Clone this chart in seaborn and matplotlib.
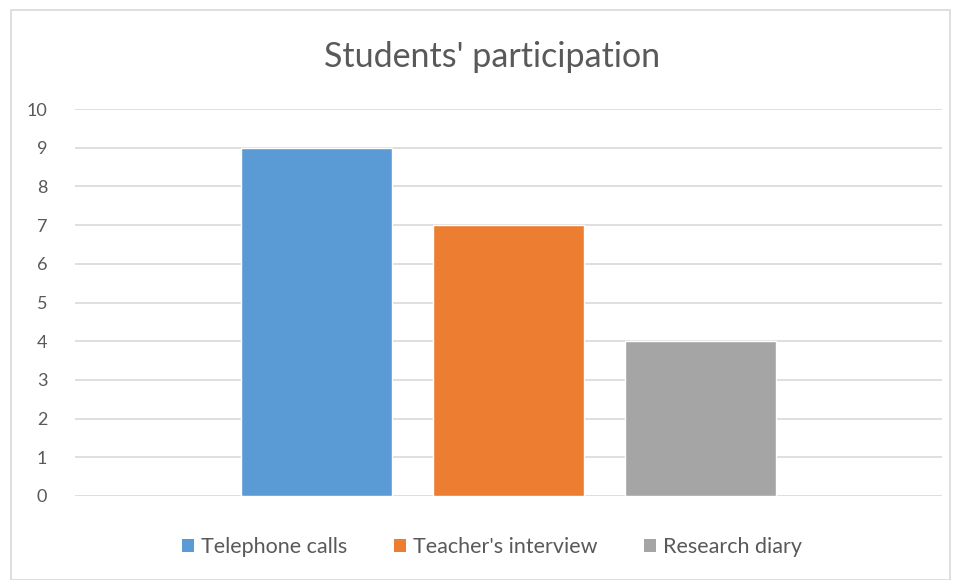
import matplotlib
matplotlib.use("Agg")
import matplotlib.pyplot as plt
import seaborn as sns
import pandas as pd
from matplotlib.patches import Rectangle

series = ["Telephone calls", "Teacher's interview", "Research diary"]
values = [9, 7, 4]
colors = ["#5b9bd5", "#ed7d31", "#a5a5a5"]
yticks = [0, 1, 2, 3, 4, 5, 6, 7, 8, 9, 10]

sns.set_theme(style="white")
plt.rcParams['font.family'] = ['Lato', 'DejaVu Sans']

df = pd.DataFrame({"series": series, "value": values})

fig = plt.figure(figsize=(9.6, 5.8), dpi=100)
ax = fig.add_axes([75/960, 1-496/580, (942-75)/960, (496-109)/580])
sns.barplot(data=df, x="series", y="value", hue="series", palette=colors,
            width=0.786, ax=ax, legend=False, saturation=1)

ax.set_xlim(-1.258, 3.258)
ax.set_ylim(0, 10)
ax.set_yticks(yticks)
ax.set_yticklabels([str(t) for t in yticks], color="#595959", fontsize=13)
ax.set_xticks([])
ax.set_xlabel("")
ax.set_ylabel("")
ax.yaxis.grid(True, color="#d9d9d9", linewidth=1.2)
ax.set_axisbelow(True)
for s in ["top", "right", "left", "bottom"]:
    ax.spines[s].set_visible(False)
ax.tick_params(axis="y", length=0, pad=20)

fig.text(492/960, 1-57/580, "Students' participation", ha="center", va="center",
         fontsize=24.5, color="#595959")

handles = [Rectangle((0, 0), 1, 1, facecolor=c, edgecolor="none") for c in colors]
fig.legend(handles, series, loc="center", bbox_to_anchor=(492/960, 1-547/580),
           ncol=3, frameon=False, fontsize=15.5, labelcolor="#595959",
           handlelength=0.55, handleheight=0.55, handletextpad=0.3, columnspacing=2.2)

fig.patches.append(Rectangle((11/960, 0.0), (950-11)/960, 1-10/580,
                             transform=fig.transFigure, fill=False,
                             edgecolor="#d9d9d9", linewidth=1.2))

fig.savefig("out.png", dpi=100)
